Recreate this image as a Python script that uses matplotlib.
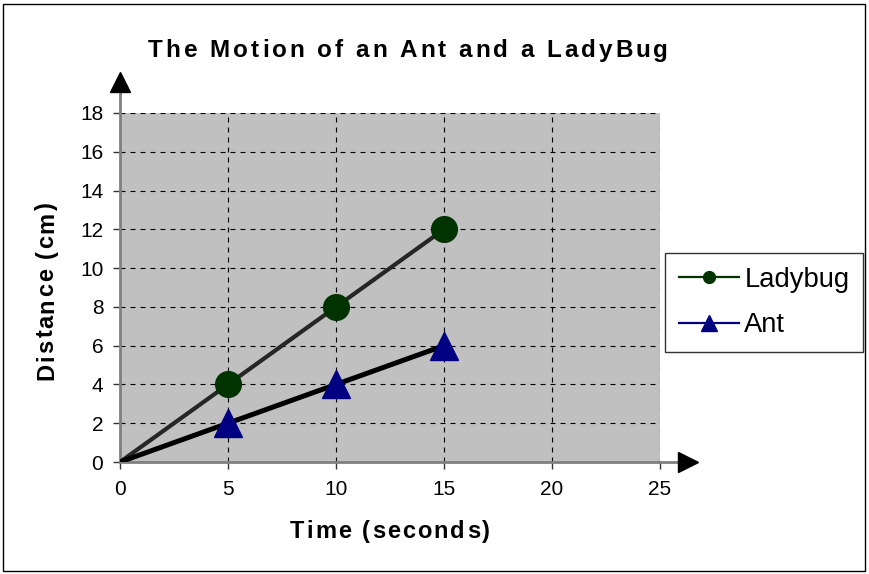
import matplotlib.pyplot as plt
from matplotlib.lines import Line2D
from matplotlib.patches import Rectangle

# data
time_s = [0, 5, 10, 15]
ladybug_cm = [0, 4, 8, 12]
ant_cm = [0, 2, 4, 6]
x_ticks = [0, 5, 10, 15, 20, 25]
y_ticks = [0, 2, 4, 6, 8, 10, 12, 14, 16, 18]

plt.rcParams['font.family'] = ['Liberation Sans', 'DejaVu Sans']

W, H = 869, 574
fig = plt.figure(figsize=(W / 100, H / 100), dpi=100)
ax = fig.add_axes([120 / W, 1 - 462 / H, 540 / W, 349 / H])
ax.set_facecolor('#c0c0c0')
renderer = fig.canvas.get_renderer()


def spaced_text(s, cx, cy, width, size, rotation=0):
    """Excel-like letter-spaced bold text, centred at (cx, cy) px from top-left,
    baseline at cy, stretched to span `width` px."""
    probe = fig.text(0, 0, '', fontsize=size, fontweight='bold')

    def w(t):
        probe.set_text(t)
        return probe.get_window_extent(renderer).width

    base = w('HH')
    adv = [w('H' + c + 'H') - base for c in s]
    probe.remove()
    track = (width - sum(adv)) / (len(s) - 1)
    pos = -width / 2
    for c, a in zip(s, adv):
        if rotation == 0:
            x, y = cx + pos, cy
        else:
            x, y = cx, cy - pos
        fig.text(x / W, 1 - y / H, c, fontsize=size, fontweight='bold',
                 rotation=rotation, rotation_mode='anchor',
                 ha='left', va='baseline')
        pos += a + track


# grid
dash = (0, (4.5, 4.5))
for xv in x_ticks[1:]:
    ax.axvline(xv, color='black', lw=0.8, ls=dash, zorder=1)
for yv in y_ticks[1:]:
    ax.axhline(yv, color='black', lw=0.8, ls=dash, zorder=1)

# series (thin coloured lines + markers) and the drawn thick lines
ax.plot(time_s, ladybug_cm, color='#003300', lw=1, zorder=2)
ax.plot(time_s, ant_cm, color='#000080', lw=1, zorder=2)
ax.plot(time_s, ladybug_cm, color='#262626', lw=3, solid_capstyle='butt', zorder=3)
ax.plot(time_s, ant_cm, color='black', lw=3.6, solid_capstyle='butt', zorder=3)
ax.plot(time_s[1:], ladybug_cm[1:], 'o', color='#003300', ms=18.5, mec='#003300', zorder=4)
ax.plot(time_s[1:], ant_cm[1:], '^', color='#000080', ms=20, mec='#000080', zorder=4)

ax.set_xlim(0, 25)
ax.set_ylim(0, 18)
ax.set_xticks(x_ticks)
ax.set_yticks(y_ticks)
ax.tick_params(labelsize=15, length=5, width=1, color='#333333')
ax.tick_params(axis='x', pad=8)
ax.tick_params(axis='y', pad=7)

for s in ['top', 'right']:
    ax.spines[s].set_visible(False)
for s in ['left', 'bottom']:
    ax.spines[s].set_color('#808080')
    ax.spines[s].set_linewidth(2)

# axis extensions with black arrow heads
ax.plot([0, 0], [1, 1 + 22 / 349], color='#808080', lw=2,
        transform=ax.transAxes, clip_on=False, zorder=5)
ax.plot([1, 1 + 20 / 540], [0, 0], color='#808080', lw=2,
        transform=ax.transAxes, clip_on=False, zorder=5)
ax.plot([0], [1 + 31 / 349], marker='^', ms=14.5, color='black',
        transform=ax.transAxes, clip_on=False, zorder=6)
ax.plot([1 + 28 / 540], [0], marker='>', ms=14.5, color='black',
        transform=ax.transAxes, clip_on=False, zorder=6)

# titles
spaced_text('The Motion of an Ant and a LadyBug', 408, 57, 520, 17.5)
spaced_text('Time (seconds)', 390, 538, 200, 17)
spaced_text('Distance (cm)', 53, 291, 178, 17, rotation=90)

# legend
handles = [
    Line2D([], [], color='#003300', lw=1.6, marker='o', ms=8.5),
    Line2D([], [], color='#000080', lw=1.6, marker='^', ms=11),
]
leg = fig.legend(handles, ['Ladybug', 'Ant'], loc='upper left',
                 bbox_to_anchor=(665 / W, 1 - 253 / H), fontsize=19.7,
                 frameon=True, fancybox=False, edgecolor='black',
                 handlelength=2.2, handletextpad=0.2, borderpad=0.5,
                 labelspacing=0.72, borderaxespad=0)
leg.get_frame().set_linewidth(1)

# figure border
fig.patches.append(Rectangle((3 / W, 3 / H), 1 - 7 / W, 1 - 7 / H,
                             transform=fig.transFigure, fill=False,
                             edgecolor='black', lw=1))

fig.savefig('out.png', dpi=100)
